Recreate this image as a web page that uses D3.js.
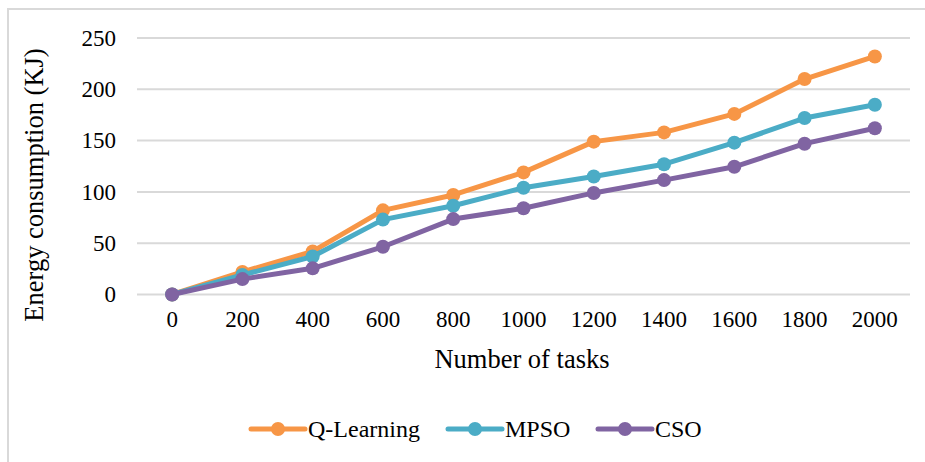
<!DOCTYPE html>
<html><head><meta charset="utf-8">
<script src="https://cdn.jsdelivr.net/npm/d3@7/dist/d3.min.js"></script>
<style>body{margin:0;background:#fff;} svg{display:block;}</style>
</head><body>
<svg id="chart" width="925" height="462"></svg>
<script>
const categories = ["0","200","400","600","800","1000","1200","1400","1600","1800","2000"];
const qLearning = [0, 22, 42, 82, 97, 119, 149, 158, 176, 210, 232];
const mpso = [0, 19, 37, 73, 86.5, 104, 115, 127, 148, 172, 185];
const cso = [0, 15, 25.5, 46.5, 73.5, 84, 99, 111.5, 124.5, 147, 162];
const yTicks = [0, 50, 100, 150, 200, 250];
const seriesNames = ["Q-Learning", "MPSO", "CSO"];
const colors = ["#F79646", "#4BACC6", "#8064A2"];
const seriesData = [qLearning, mpso, cso];

(function () {
const svg = d3.select("#chart");
const font = "'Liberation Serif','Times New Roman',serif";
// outer border
svg.append("rect").attr("x",8).attr("y",9).attr("width",930).attr("height",470)
  .attr("fill","none").attr("stroke","#d9d9d9").attr("stroke-width",2);

const pl = 137, pr = 910, pt = 38, pb = 294.5;
const x = d3.scaleBand().domain(categories).range([pl, pr]);
const y = d3.scaleLinear().domain([0, 250]).range([pb, pt]);

// gridlines
svg.append("g").selectAll("line").data(yTicks).join("line")
  .attr("x1", pl).attr("x2", pr)
  .attr("y1", d => y(d)).attr("y2", d => y(d))
  .attr("stroke", "#d9d9d9").attr("stroke-width", 2);

// y axis labels
const yAxis = d3.axisLeft(y).tickValues(yTicks).tickSize(0).tickPadding(21);
const gy = svg.append("g").attr("transform", `translate(${pl},0)`).call(yAxis);
gy.select(".domain").remove();
gy.selectAll("text").attr("font-family", font).attr("font-size", 23).attr("fill", "#000");

// x axis labels
const xAxis = d3.axisBottom(x).tickSize(0).tickPadding(16);
const gx = svg.append("g").attr("transform", `translate(0,${pb})`).call(xAxis);
gx.select(".domain").remove();
gx.selectAll("text").attr("font-family", font).attr("font-size", 23).attr("fill", "#000");

// axis titles
svg.append("text").attr("x", 522).attr("y", 368).attr("text-anchor", "middle")
  .attr("font-family", font).attr("font-size", 26.5).attr("fill", "#000").text("Number of tasks");
svg.append("text").attr("transform", "translate(43,185) rotate(-90)").attr("text-anchor", "middle")
  .attr("font-family", font).attr("font-size", 26.5).attr("fill", "#000").text("Energy consumption (KJ)");

const cx = c => x(c) + x.bandwidth() / 2;
const line = d3.line().x((d, i) => cx(categories[i])).y(d => y(d));

seriesData.forEach((vals, si) => {
  const g = svg.append("g");
  g.append("path").datum(vals).attr("d", line).attr("fill", "none")
    .attr("stroke", colors[si]).attr("stroke-width", 5).attr("stroke-linejoin", "round");
  g.selectAll("circle").data(vals).join("circle")
    .attr("cx", (d, i) => cx(categories[i])).attr("cy", d => y(d)).attr("r", 7)
    .attr("fill", colors[si]);
});

// legend
const legendX = [251, 448, 598];
seriesNames.forEach((name, i) => {
  const g = svg.append("g").attr("transform", `translate(${legendX[i]},429)`);
  g.append("line").attr("x1", 0).attr("x2", 54).attr("y1", 0).attr("y2", 0)
    .attr("stroke", colors[i]).attr("stroke-width", 5).attr("stroke-linecap", "round");
  g.append("circle").attr("cx", 27).attr("cy", 0).attr("r", 7).attr("fill", colors[i]);
  g.append("text").attr("x", 57).attr("y", 8).attr("font-family", font).attr("font-size", 24)
    .attr("fill", "#000").text(name);
});
})();
</script>
</body></html>
